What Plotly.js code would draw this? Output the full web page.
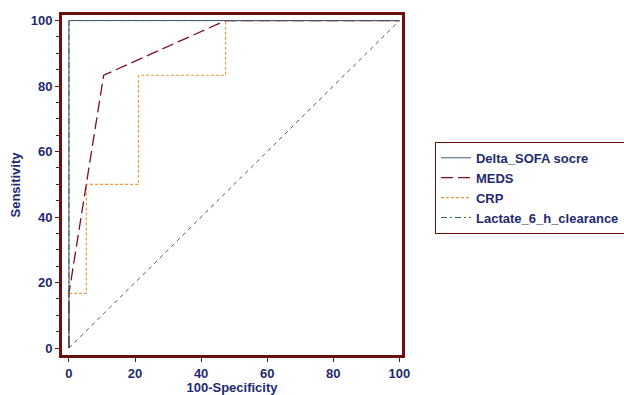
<!DOCTYPE html>
<html><head><meta charset="utf-8">
<script src="https://cdn.plot.ly/plotly-3.0.1.min.js"></script>
<style>body{margin:0;background:#fff}#chart{width:624px;height:395px}</style>
</head><body><div id="chart"></div>
<script>
// ROC curve points (100-Specificity, Sensitivity)
const seriesNames = ["Delta_SOFA socre", "MEDS", "CRP", "Lactate_6_h_clearance"];
const deltaX = [0, 0, 100];
const deltaY = [0, 100, 100];
const medsX = [0, 0, 10.5, 47.4, 100];
const medsY = [0, 16.7, 83.3, 100, 100];
const crpX = [0, 0, 5.26, 5.26, 21.05, 21.05, 47.4, 47.4, 100];
const crpY = [0, 16.7, 16.7, 50, 50, 83.3, 83.3, 100, 100];
const lactX = [0, 0, 100];
const lactY = [0, 100, 100];
const diagX = [0, 100];
const diagY = [0, 100];
const tickVals = [0, 20, 40, 60, 80, 100];

const navy = '#1f2a70';
const frame = '#6e0f0f';
const traces = [
  {x: diagX, y: diagY, mode: 'lines', showlegend: false, hoverinfo: 'skip',
   line: {color: '#555555', width: 1, dash: '4px,4px'}},
  {x: lactX, y: lactY, name: seriesNames[3], mode: 'lines',
   line: {color: '#2f6a3a', width: 1, dash: '6px,3px,2px,3px'}},
  {x: crpX, y: crpY, name: seriesNames[2], mode: 'lines',
   line: {color: '#f0963c', width: 1.2, dash: '3px,2px'}},
  {x: medsX, y: medsY, name: seriesNames[1], mode: 'lines',
   line: {color: '#7a1020', width: 1.3, dash: '12px,5px'}},
  {x: deltaX, y: deltaY, name: seriesNames[0], mode: 'lines',
   line: {color: '#3e5a78', width: 1}}
];
const tickFont = {family: 'Liberation Sans, Arial, sans-serif', size: 13, color: navy, weight: 'bold'};
const layout = {
  width: 624, height: 395,
  margin: {l: 62, r: 222, t: 15, b: 40, autoexpand: false},
  paper_bgcolor: '#ffffff', plot_bgcolor: '#ffffff',
  showlegend: true,
  legend: {
    x: 1.097, y: 0.627, xanchor: 'left', yanchor: 'top',
    traceorder: 'reversed',
    bordercolor: frame, borderwidth: 1, bgcolor: '#ffffff',
    font: {family: 'Liberation Sans, Arial, sans-serif', size: 13, color: navy, weight: 'bold'},
    tracegroupgap: 0, itemwidth: 30
  },
  xaxis: {
    range: [-2.1, 100.8], tickvals: tickVals, ticktext: tickVals.map(String),
    showgrid: false, zeroline: false, automargin: false,
    showline: true, mirror: true, linecolor: frame, linewidth: 3,
    ticks: 'outside', ticklen: 4, tickcolor: frame, tickwidth: 1,
    tickfont: tickFont,
    title: {text: '100-Specificity', font: tickFont, standoff: 5}
  },
  yaxis: {
    range: [-2.1, 101.7], tickvals: tickVals, ticktext: tickVals.map(String),
    showgrid: false, zeroline: false, automargin: false,
    showline: true, mirror: true, linecolor: frame, linewidth: 3,
    ticks: 'outside', ticklen: 4, tickcolor: frame, tickwidth: 1,
    minor: {dtick: 5, tick0: 0, ticks: 'outside', ticklen: 3, tickcolor: frame},
    tickfont: tickFont,
    title: {text: 'Sensitivity', font: tickFont, standoff: 8}
  }
};
Plotly.newPlot('chart', traces, layout, {displayModeBar: false, staticPlot: true});
</script>
</body></html>
